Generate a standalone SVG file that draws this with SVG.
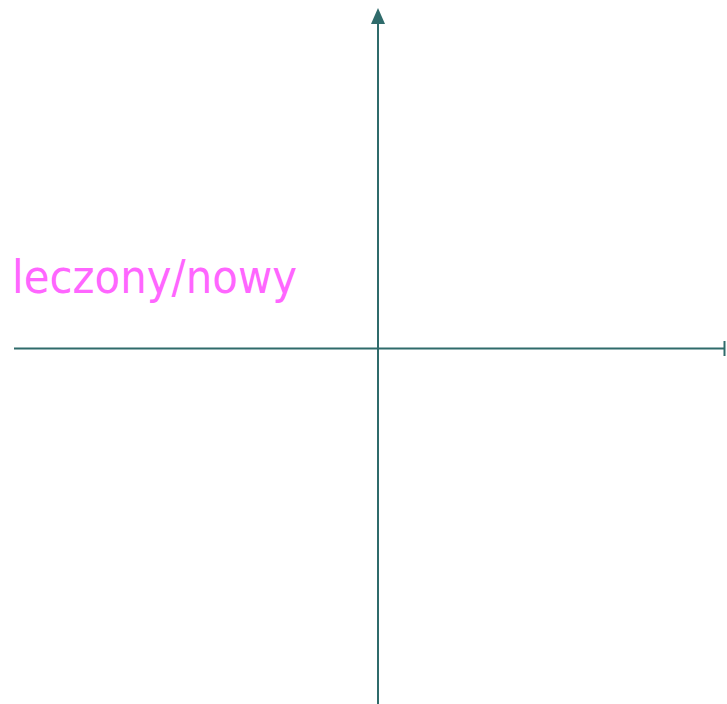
<svg xmlns="http://www.w3.org/2000/svg" width="727" height="704" viewBox="0 0 727 704">
<style>
.axis{stroke:#2F6B6B;stroke-width:2;fill:none}
.lbl{font-family:"DejaVu Sans",Verdana,sans-serif;font-size:47px;fill:#FF66FF}
</style>
<rect width="727" height="704" fill="#FFFFFF"/>
<g id="connectors">
<line class="axis" x1="378" y1="704" x2="378" y2="22"/>
<polygon points="378,8 371,24 385,24" fill="#2F6B6B"/>
<line class="axis" x1="14" y1="348.5" x2="725" y2="348.5"/>
<line class="axis" x1="724.5" y1="341" x2="724.5" y2="356"/>
</g>
<g id="label">
<text class="lbl" x="12" y="293" textLength="285" lengthAdjust="spacingAndGlyphs">leczony/nowy</text>
</g>
</svg>
